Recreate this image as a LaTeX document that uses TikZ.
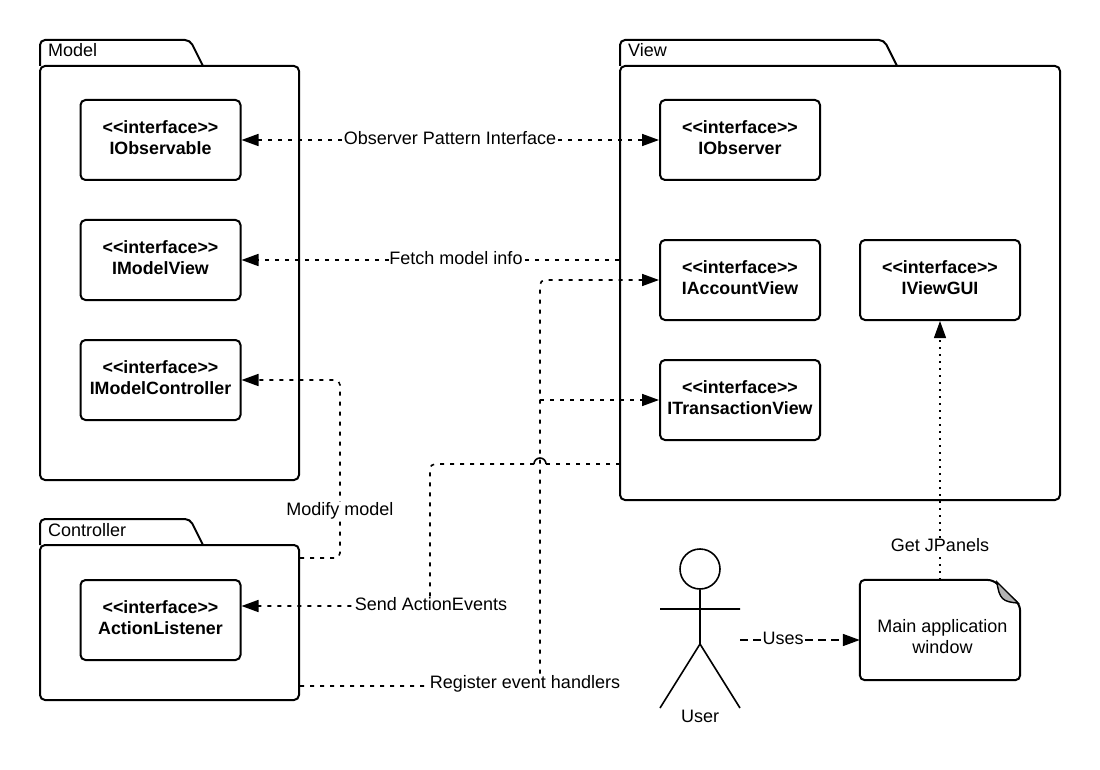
\documentclass[tikz,border=0pt]{standalone}
\usepackage{fontspec}
\setmainfont{Liberation Sans}
\usetikzlibrary{arrows.meta}
\newcommand{\stereo}{<{}<interface>{}>}
\tikzset{
  x=1pt,y=-1pt,
  box/.style={draw=black,line width=2pt,rounded corners=5pt,fill=white,inner sep=0pt},
  iface/.style={box,minimum width=160pt,minimum height=80pt},
  ifacetext/.style={inner sep=0pt,font=\fontsize{17.8}{21}\selectfont\bfseries,align=center},
  pkgbody/.style={box},
  tabshape/.style={draw=black,line width=2pt,rounded corners=5pt,fill=white},
  conn/.style={draw=black,line width=1.6pt,dash pattern=on 4pt off 6pt,rounded corners=5pt},
  hopline/.style={draw=black,line width=1.6pt,dash pattern=on 4pt off 6pt},
  dots/.style={draw=black,line width=1.2pt,dash pattern=on 2pt off 5pt},
  usesline/.style={draw=black,line width=1.6pt,dash pattern=on 8pt off 5pt},
  head/.style={-{Triangle[length=17pt,width=12pt]}},
  both/.style={{Triangle[length=17pt,width=12pt]}-{Triangle[length=17pt,width=12pt]}},
  lab/.style={fill=white,inner sep=0.5pt,font=\fontsize{18}{21}\selectfont},
  plain/.style={inner sep=0pt,font=\fontsize{18}{21}\selectfont,align=center},
  pkgname/.style={inner sep=0pt,anchor=west,font=\fontsize{18}{21}\selectfont},
  stick/.style={draw=black,line width=1.6pt},
}
\begin{document}
\begin{tikzpicture}
\useasboundingbox (0,0) rectangle (1100,770);
% package tabs
\draw[tabshape] (40,66) -- (40,40) -- (190,40) -- (203,66);
\draw[tabshape] (620,66) -- (620,40) -- (884,40) -- (897,66);
\draw[tabshape] (40,545) -- (40,519) -- (190,519) -- (203,545);
% package bodies
\node[pkgbody,minimum width=259pt,minimum height=414pt] (model) at (169.5,273) {};
\node[pkgbody,minimum width=440pt,minimum height=434pt] (view) at (840,283) {};
\node[pkgbody,minimum width=259pt,minimum height=155pt] (ctrl) at (169.5,622.5) {};
\node[pkgname] (modelname) at (48,50) {Model};
\node[pkgname] (viewname) at (628,50) {View};
\node[pkgname] (ctrlname) at (48,530) {Controller};
% interfaces
\node[iface] (iobservable) at (160.5,140) {};
\node[iface] (imodelview) at (160.5,260) {};
\node[iface] (imodelctrl) at (160.5,380) {};
\node[iface] (ilistener) at (160.5,620) {};
\node[iface] (iobserver) at (740,140) {};
\node[iface] (iaccount) at (740,280) {};
\node[iface] (itrans) at (740,400) {};
\node[iface] (igui) at (940,280) {};
\node[ifacetext] (t1) at ([yshift=2pt]iobservable.center) {\stereo\\IObservable};
\node[ifacetext] (t2) at ([yshift=2pt]imodelview.center) {\stereo\\IModelView};
\node[ifacetext] (t3) at ([yshift=2pt]imodelctrl.center) {\stereo\\IModelController};
\node[ifacetext] (t4) at ([yshift=2pt]ilistener.center) {\stereo\\ActionListener};
\node[ifacetext] (t5) at ([yshift=2pt]iobserver.center) {\stereo\\IObserver};
\node[ifacetext] (t6) at ([yshift=2pt]iaccount.center) {\stereo\\IAccountView};
\node[ifacetext] (t7) at ([yshift=2pt]itrans.center) {\stereo\\ITransactionView};
\node[ifacetext] (t8) at ([yshift=2pt]igui.center) {\stereo\\IViewGUI};
% document
\node[plain,minimum width=160pt,minimum height=100pt] (mainwin) at (940,630) {};
\draw[draw=black,line width=2pt,rounded corners=5pt,fill=white]
  (mainwin.north west) -- (993,580) -- (1020,605) -- (mainwin.south east) -- (mainwin.south west) -- cycle;
\draw[draw=black,line width=1.4pt,fill=black!30] (997,582) .. controls (999,599) and (1003,602) .. (1018,603) -- cycle;
\node[plain] (mainwintext) at (942.5,637) {Main application\\window};
% actor
\node[circle,draw=black,line width=1.6pt,minimum size=40pt,inner sep=0pt] (actorhead) at (700,569) {};
\coordinate (crotch) at (700,644);
\coordinate (armL) at (660,609);
\coordinate (armR) at (740,609);
\coordinate (footL) at (660,708);
\coordinate (footR) at (740,708);
\draw[stick] (actorhead.south) -- (crotch) (armL) -- (armR) (footL) -- (crotch) -- (footR);
\node[plain] (actorname) at (700,716) {User};
% connectors
\coordinate (usesstart) at (740,640);
\coordinate (ctrlA) at (300,558);
\coordinate (ctrlB) at (300,686);
\coordinate (bendA) at (340,558);
\coordinate (bendB) at (340,380);
\coordinate (viewB) at (620,464);
\coordinate (hopR) at (546,464);
\coordinate (hopL) at (534,464);
\coordinate (bendC) at (430,464);
\coordinate (bendD) at (430,606);
\coordinate (bendE) at (540,686);
\coordinate (bendF) at (540,280);
\coordinate (branch) at (540,400);
\draw[conn,both] (iobservable.east) -- (iobserver.west);
\draw[conn,head] (imodelview.east -| view.west) -- (imodelview.east);
\draw[conn,head] (ctrlA) -- (bendA) -- (bendB) -- (imodelctrl.east);
\draw[hopline] (viewB) -- (hopR);
\draw[draw=black,line width=1.6pt] (hopR) arc[start angle=0,end angle=180,radius=6pt];
\draw[conn,head] (hopL) -- (bendC) -- (bendD) -- (ilistener.east |- bendD);
\draw[conn,head] (ctrlB) -- (bendE) -- (bendF) -- (iaccount.west);
\draw[conn,head] (branch) -- (itrans.west);
\draw[usesline,head] (usesstart) -- (usesstart -| mainwin.west);
\draw[dots,head] (mainwin.north) -- (igui.south);
% labels
\node[lab] (l1) at (450,138) {Observer Pattern Interface};
\node[lab] (l2) at (456,258) {Fetch model info};
\node[lab] (l3) at (340,511) {Modify model};
\node[lab] (l4) at (431,604) {Send ActionEvents};
\node[lab] (l5) at (525,684) {Register event handlers};
\node[lab] (l6) at (783,638) {Uses};
\node[lab] (l7) at (940,545) {Get JPanels};
\end{tikzpicture}
\end{document}
